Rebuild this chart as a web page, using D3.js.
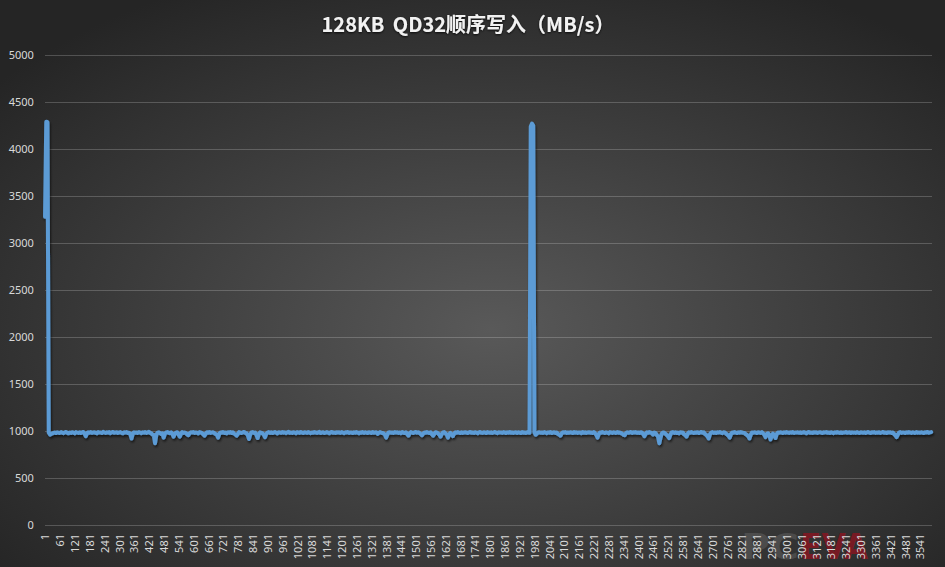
<!DOCTYPE html>
<html>
<head>
<meta charset="utf-8">
<script src="https://cdn.jsdelivr.net/npm/d3@7"></script>
<style>
  html, body { margin: 0; padding: 0; background: #2a2a2a; }
  svg { display: block; }
</style>
</head>
<body>
<div id="chart"></div>
<script>
// ---- data ----
// one sample every 5 categories (1, 6, 11, ...), 3590 categories in total
const categoryCount = 3590;
const sampleStep = 5;
const writeSpeed = [
  3280,4290,4285,985,962,968,975,980,984,978,986,982,979,988,983,977,985,990,981,976,
  984,979,987,982,975,988,983,980,986,978,985,990,972,945,978,986,981,988,979,984,
  987,980,976,989,983,985,978,991,984,979,986,982,988,977,985,990,981,983,987,979,
  984,988,980,975,986,983,990,978,982,968,920,974,987,981,985,979,988,983,976,986,
  982,989,979,985,991,980,976,962,958,870,955,982,986,979,968,975,930,972,984,988,
  981,977,986,970,940,968,983,987,965,940,972,989,980,984,978,962,955,976,986,983,
  990,979,985,981,975,988,984,978,965,950,972,987,982,990,979,984,986,977,968,962,
  930,970,985,981,989,978,984,975,987,982,990,979,986,972,964,950,970,988,983,979,
  985,990,980,976,958,915,962,984,988,979,983,962,925,968,986,981,975,962,935,970,
  984,989,980,986,978,983,990,981,975,987,984,979,988,982,986,977,985,991,980,984,
  979,987,983,976,988,985,980,990,982,978,986,984,979,989,983,977,985,981,988,984,
  980,986,991,978,984,987,979,983,988,982,976,985,990,981,984,979,987,983,986,980,
  988,982,977,986,984,990,979,985,983,978,987,981,989,984,976,985,982,988,980,986,
  983,979,987,985,978,990,982,984,986,970,980,988,983,979,975,962,930,966,984,987,
  981,985,978,989,983,986,980,984,977,988,982,979,986,970,950,975,988,983,979,985,
  990,982,986,978,968,955,972,985,981,988,983,979,986,965,950,970,987,982,976,962,
  940,968,984,988,975,962,930,966,979,964,945,972,986,981,988,983,979,986,980,985,
  987,982,978,986,990,981,984,979,987,983,976,985,989,982,980,986,984,978,988,983,
  981,986,979,984,990,982,977,987,983,985,980,988,984,978,986,982,989,981,985,979,
  984,987,980,986,983,978,988,982,985,979,986,984,981,4240,4270,4250,985,960,972,984,
  987,981,985,979,988,983,976,986,982,990,978,984,987,980,985,968,962,950,974,986,
  983,988,979,985,981,987,984,978,990,982,986,980,985,983,977,988,981,986,979,984,
  987,982,985,978,989,976,962,930,968,984,981,988,983,979,986,982,975,988,984,980,
  986,983,979,988,982,985,977,972,960,955,976,987,981,984,990,979,986,983,988,980,
  985,979,987,982,968,945,970,986,981,988,983,977,962,984,978,958,940,870,930,972,
  985,981,970,958,944,925,962,984,988,980,986,979,983,975,987,982,984,966,958,940,
  970,986,981,988,983,979,985,982,987,978,984,990,981,986,968,958,944,920,965,983,
  988,980,985,979,986,983,990,982,977,986,984,972,962,948,930,968,985,981,988,983,
  979,986,982,988,984,980,978,966,958,944,920,962,985,981,987,983,979,986,984,980,
  988,975,962,935,968,976,958,910,950,972,958,925,968,985,981,987,983,979,986,982,
  988,984,980,986,982,989,978,985,983,987,981,986,979,984,988,982,976,985,990,981,
  984,979,987,983,986,980,985,988,982,978,986,984,989,981,985,979,987,983,977,986,
  982,988,984,980,986,979,985,983,990,981,984,987,978,986,982,985,980,988,983,979,
  986,984,981,987,979,985,989,982,978,986,983,988,980,985,982,987,979,984,990,981,
  985,979,987,983,986,980,984,968,955,935,962,982,988,980,985,983,979,986,982,988,
  984,980,986,983,979,988,982,985,981,987,983,978,986,984,990,982,985,988
];
const xTickLabels = [
  1,61,121,181,241,301,361,421,481,541,601,661,721,781,841,901,961,1021,1081,1141,
  1201,1261,1321,1381,1441,1501,1561,1621,1681,1741,1801,1861,1921,1981,2041,2101,2161,2221,2281,2341,
  2401,2461,2521,2581,2641,2701,2761,2821,2881,2941,3001,3061,3121,3181,3241,3301,3361,3421,3481,3541
];
const yTicks = [0, 500, 1000, 1500, 2000, 2500, 3000, 3500, 4000, 4500, 5000];
const title = "128KB QD32顺序写入（MB/s）";

// ---- layout ----
const W = 945, H = 567;
const plot = { left: 44.9, right: 932.3, top: 55, bottom: 525 };

const svg = d3.select("#chart").append("svg")
    .attr("width", W)
    .attr("height", H);

const defs = svg.append("defs");

// dark radial background like the excel theme
const bg = defs.append("radialGradient")
    .attr("id", "bg")
    .attr("cx", "52%").attr("cy", "58%").attr("r", "68%");
bg.append("stop").attr("offset", "0%").attr("stop-color", "#595959");
bg.append("stop").attr("offset", "100%").attr("stop-color", "#252525");

const lineShadow = defs.append("filter").attr("id", "lineShadow")
    .attr("x", "-5%").attr("y", "-5%").attr("width", "110%").attr("height", "110%");
lineShadow.append("feDropShadow")
    .attr("dx", 1).attr("dy", 2).attr("stdDeviation", 1)
    .attr("flood-color", "#000").attr("flood-opacity", 0.6);

const textShadow = defs.append("filter").attr("id", "textShadow");
textShadow.append("feDropShadow")
    .attr("dx", 0).attr("dy", 1).attr("stdDeviation", 1.2)
    .attr("flood-color", "#000").attr("flood-opacity", 0.8);

svg.append("rect")
    .attr("width", W).attr("height", H)
    .attr("fill", "url(#bg)");

// ---- scales ----
const x = d3.scaleLinear()
    .domain([0.5, categoryCount + 0.5])
    .range([plot.left, plot.right]);

const y = d3.scaleLinear()
    .domain([0, 5000])
    .range([plot.bottom, plot.top]);

const fmt = d3.format("d");

// ---- watermark (sits behind the labels) ----
const wm = svg.append("g")
    .style("font-family", "'DejaVu Sans', sans-serif")
    .style("font-weight", "bold")
    .style("font-size", "36px");
wm.append("text")
    .attr("x", 741).attr("y", 559)
    .attr("textLength", 58).attr("lengthAdjust", "spacingAndGlyphs")
    .attr("fill", "#a0a0a0").attr("fill-opacity", 0.22)
    .text("PC");
wm.append("text")
    .attr("x", 800).attr("y", 559)
    .attr("textLength", 68).attr("lengthAdjust", "spacingAndGlyphs")
    .attr("fill", "#8c1420").attr("fill-opacity", 0.8)
    .text("EVA");

// ---- grid + y axis ----
const yAxis = svg.append("g")
    .attr("transform", "translate(" + plot.left + ",0)")
    .call(d3.axisLeft(y).tickValues(yTicks).tickFormat(fmt)
        .tickSize(-(plot.right - plot.left)).tickPadding(11));
yAxis.select(".domain").remove();
yAxis.selectAll("line")
    .attr("stroke", "#ffffff")
    .attr("stroke-opacity", 0.2)
    .attr("shape-rendering", "crispEdges");
yAxis.selectAll("text")
    .attr("fill", "#d9d9d9")
    .style("font-family", "'Noto Sans', 'Liberation Sans', sans-serif")
    .style("font-size", "11px");

// ---- x axis (rotated category labels) ----
const xAxis = svg.append("g")
    .attr("transform", "translate(0," + plot.bottom + ")")
    .call(d3.axisBottom(x).tickValues(xTickLabels).tickFormat(fmt).tickSize(0).tickPadding(0));
xAxis.select(".domain").remove();
xAxis.selectAll("text")
    .attr("fill", "#d9d9d9")
    .attr("transform", "rotate(-90)")
    .attr("text-anchor", "end")
    .attr("x", -9)
    .attr("y", 0)
    .attr("dy", "0.35em")
    .style("font-family", "'Noto Sans', 'Liberation Sans', sans-serif")
    .style("font-size", "11px");

// ---- line ----
const line = d3.line()
    .x(function(d, i) { return x(1 + i * sampleStep); })
    .y(function(d) { return y(d); })
    .curve(d3.curveLinear);

svg.append("path")
    .datum(writeSpeed)
    .attr("d", line)
    .attr("fill", "none")
    .attr("stroke", "#5b9bd5")
    .attr("stroke-width", 4)
    .attr("stroke-linejoin", "round")
    .attr("stroke-linecap", "round")
    .attr("filter", "url(#lineShadow)");

// ---- title ----
svg.append("text")
    .attr("x", 468)
    .attr("y", 32)
    .attr("text-anchor", "middle")
    .attr("fill", "#f2f2f2")
    .attr("filter", "url(#textShadow)")
    .style("font-family", "'Noto Sans CJK SC', 'Noto Sans', sans-serif")
    .style("font-weight", "bold")
    .style("font-size", "20px")
    .style("word-spacing", "4px")
    .text(title);
</script>
</body>
</html>
